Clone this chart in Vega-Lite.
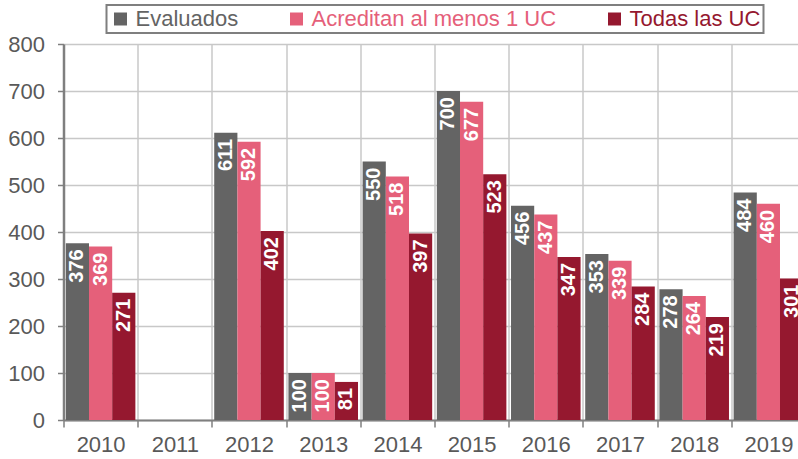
{
  "$schema": "https://vega.github.io/schema/vega-lite/v6.json",
  "autosize": {"type": "none"},
  "padding": {"left": 63.5, "top": 44, "right": 0, "bottom": 39},
  "width": 742,
  "height": 376,
  "background": "white",
  "config": {
    "view": {"stroke": null},
    "font": "Liberation Sans",
    "axis": {"labelFont": "Liberation Sans", "labelFontSize": 22, "labelColor": "#595959"}
  },
  "data": {
    "values": [
      {"year": "2010", "serie": "Evaluados", "value": 376},
      {"year": "2010", "serie": "Acreditan al menos 1 UC", "value": 369},
      {"year": "2010", "serie": "Todas las UC", "value": 271},
      {"year": "2012", "serie": "Evaluados", "value": 611},
      {"year": "2012", "serie": "Acreditan al menos 1 UC", "value": 592},
      {"year": "2012", "serie": "Todas las UC", "value": 402},
      {"year": "2013", "serie": "Evaluados", "value": 100},
      {"year": "2013", "serie": "Acreditan al menos 1 UC", "value": 100},
      {"year": "2013", "serie": "Todas las UC", "value": 81},
      {"year": "2014", "serie": "Evaluados", "value": 550},
      {"year": "2014", "serie": "Acreditan al menos 1 UC", "value": 518},
      {"year": "2014", "serie": "Todas las UC", "value": 397},
      {"year": "2015", "serie": "Evaluados", "value": 700},
      {"year": "2015", "serie": "Acreditan al menos 1 UC", "value": 677},
      {"year": "2015", "serie": "Todas las UC", "value": 523},
      {"year": "2016", "serie": "Evaluados", "value": 456},
      {"year": "2016", "serie": "Acreditan al menos 1 UC", "value": 437},
      {"year": "2016", "serie": "Todas las UC", "value": 347},
      {"year": "2017", "serie": "Evaluados", "value": 353},
      {"year": "2017", "serie": "Acreditan al menos 1 UC", "value": 339},
      {"year": "2017", "serie": "Todas las UC", "value": 284},
      {"year": "2018", "serie": "Evaluados", "value": 278},
      {"year": "2018", "serie": "Acreditan al menos 1 UC", "value": 264},
      {"year": "2018", "serie": "Todas las UC", "value": 219},
      {"year": "2019", "serie": "Evaluados", "value": 484},
      {"year": "2019", "serie": "Acreditan al menos 1 UC", "value": 460},
      {"year": "2019", "serie": "Todas las UC", "value": 301}
    ]
  },
  "encoding": {
    "x": {
      "field": "year",
      "type": "nominal",
      "scale": {
        "domain": ["2010", "2011", "2012", "2013", "2014", "2015", "2016", "2017", "2018", "2019"],
        "paddingInner": 0,
        "paddingOuter": 0
      },
      "axis": {
        "title": null,
        "labelAngle": 0,
        "tickBand": "extent",
        "grid": true,
        "gridColor": "#c8c8c8",
        "gridWidth": 1.5,
        "domainColor": "#7f7f7f",
        "domainWidth": 2,
        "tickColor": "#7f7f7f",
        "tickWidth": 1.5,
        "tickSize": 7,
        "labelPadding": 7
      }
    },
    "xOffset": {
      "field": "serie",
      "type": "nominal",
      "sort": ["Evaluados", "Acreditan al menos 1 UC", "Todas las UC"],
      "scale": {"paddingInner": 0, "paddingOuter": 0.1}
    },
    "y": {
      "field": "value",
      "type": "quantitative",
      "scale": {"domain": [0, 800], "nice": false},
      "axis": {
        "title": null,
        "values": [0, 100, 200, 300, 400, 500, 600, 700, 800],
        "grid": true,
        "gridColor": "#c8c8c8",
        "gridWidth": 1.5,
        "domainColor": "#7f7f7f",
        "domainWidth": 2.5,
        "tickColor": "#7f7f7f",
        "tickWidth": 1.5,
        "tickSize": 6,
        "labelPadding": 13
      }
    }
  },
  "layer": [
    {
      "mark": {"type": "bar"},
      "encoding": {
        "color": {
          "field": "serie",
          "type": "nominal",
          "sort": ["Evaluados", "Acreditan al menos 1 UC", "Todas las UC"],
          "scale": {
            "domain": ["Evaluados", "Acreditan al menos 1 UC", "Todas las UC"],
            "range": ["#646464", "#e5607a", "#95182f"]
          },
          "legend": {
            "title": null,
            "orient": "none",
            "direction": "horizontal",
            "legendX": 43,
            "legendY": -39,
            "padding": 3,
            "strokeColor": "#7f7f7f",
            "symbolType": "square",
            "symbolSize": 169,
            "symbolStrokeWidth": 0,
            "symbolOpacity": 1,
            "labelFont": "Liberation Sans",
            "labelFontSize": 22,
            "labelOffset": 4,
            "labelLimit": 400,
            "columnPadding": 47,
            "encode": {
              "legend": {"update": {"strokeWidth": {"value": 2}}},
              "labels": {"update": {"fill": {"scale": "color", "field": "value"}}}
            }
          }
        }
      }
    },
    {
      "mark": {
        "type": "text",
        "angle": 270,
        "align": "right",
        "baseline": "middle",
        "dx": -6,
        "color": "white",
        "fontWeight": "bold",
        "fontSize": 20,
        "font": "Liberation Sans"
      },
      "encoding": {
        "text": {"field": "value", "type": "quantitative"}
      }
    }
  ]
}
